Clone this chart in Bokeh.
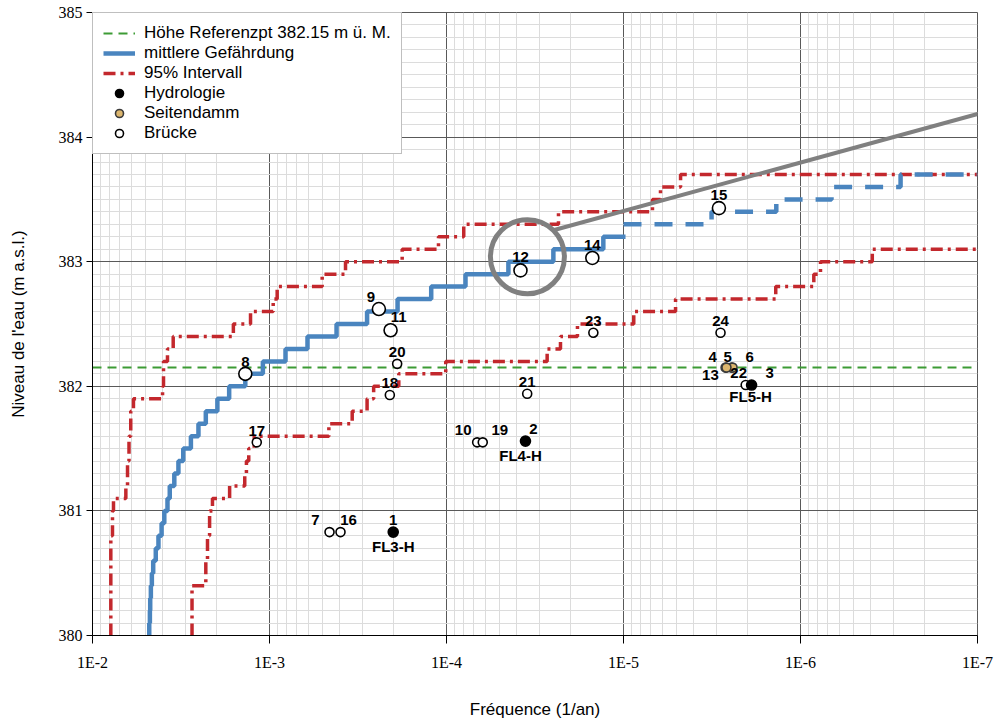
from bokeh.plotting import figure
from bokeh.models import (Range1d, FixedTicker, SingleIntervalTicker, CustomJSTickFormatter,
                          ColumnDataSource, Legend, LegendItem, Arrow, Span)
from bokeh.core.properties import value
from bokeh.embed import file_html
from bokeh.resources import INLINE

# ---------------- data ----------------
ref_level = 382.15

mean_freq = [4.78e-3, 4.78e-3, 4.74e-3, 4.72e-3, 4.68e-3, 4.62e-3, 4.54e-3, 4.39e-3, 4.24e-3,
             4.07e-3, 3.93e-3, 3.77e-3, 3.66e-3, 3.45e-3, 3.27e-3, 3.07e-3, 2.78e-3, 2.52e-3,
             2.29e-3, 1.97e-3, 1.69e-3, 1.37e-3, 1.09e-3, 8.12e-4, 6.10e-4, 4.18e-4, 2.81e-4,
             1.89e-4, 1.22e-4, 7.81e-5, 4.47e-5, 2.49e-5, 1.30e-5, 9.74e-6]
mean_level = [380.0, 380.1, 380.2, 380.3, 380.4, 380.5, 380.6, 380.7, 380.8,
              380.9, 381.0, 381.1, 381.2, 381.3, 381.4, 381.5, 381.6, 381.7,
              381.8, 381.9, 382.0, 382.1, 382.2, 382.3, 382.4, 382.5, 382.6,
              382.7, 382.8, 382.9, 383.0, 383.1, 383.2, 383.2]

mean_ext_freq = [1.0e-5, 3.18e-6, 1.37e-6, 6.68e-7, 2.72e-7, 1.0e-7]
mean_ext_level = [383.3, 383.4, 383.5, 383.6, 383.7, 383.7]

upper_freq = [7.88e-3, 7.88e-3, 7.71e-3, 7.61e-3, 6.48e-3, 6.34e-3, 6.22e-3, 6.08e-3, 5.87e-3,
              4.02e-3, 3.97e-3, 3.77e-3, 3.50e-3, 1.60e-3, 1.28e-3, 9.53e-4, 9.05e-4, 5.04e-4,
              3.72e-4, 1.78e-4, 1.11e-4, 7.99e-5, 2.33e-5, 6.86e-6, 6.18e-6, 4.76e-6, 1.0e-7]
upper_level = [380.0, 380.8, 381.0, 381.1, 381.2, 381.4, 381.6, 381.8, 381.9,
               382.0, 382.2, 382.3, 382.4, 382.5, 382.6, 382.7, 382.8, 382.9,
               383.0, 383.1, 383.2, 383.3, 383.4, 383.5, 383.6, 383.7, 383.7]

lower_freq = [2.74e-3, 2.74e-3, 2.29e-3, 2.24e-3, 2.18e-3, 2.10e-3, 1.68e-3, 1.38e-3, 1.35e-3,
              1.31e-3, 1.22e-3, 4.62e-4, 3.41e-4, 2.81e-4, 2.58e-4, 1.86e-4, 1.01e-4, 2.70e-5,
              2.27e-5, 1.82e-5, 8.75e-6, 5.08e-6, 1.38e-6, 8.41e-7, 7.71e-7, 3.93e-7, 1.0e-7]
lower_level = [380.0, 380.4, 380.6, 380.8, 381.0, 381.1, 381.2, 381.3, 381.4,
               381.5, 381.6, 381.7, 381.8, 381.9, 382.0, 382.1, 382.2, 382.3,
               382.4, 382.5, 382.6, 382.7, 382.8, 382.9, 383.0, 383.1, 383.1]

point_id = ["1", "2", "3", "4", "5", "6", "7", "8", "9", "10", "11", "12",
            "13", "14", "15", "16", "17", "18", "19", "20", "21", "22", "23", "24"]
point_freq = [2.0e-4, 3.58e-5, 1.89e-6, 2.65e-6, 2.45e-6, 2.42e-6, 4.58e-4, 1.37e-3, 2.41e-4,
              6.71e-5, 2.07e-4, 3.82e-5, 2.62e-6, 1.50e-5, 2.89e-6, 3.97e-4, 1.18e-3, 2.09e-4,
              6.24e-5, 1.90e-4, 3.50e-5, 2.04e-6, 1.48e-5, 2.83e-6]
point_level = [380.83, 381.56, 382.01, 382.15, 382.15, 382.15, 380.83, 382.10, 382.62,
               381.55, 382.45, 382.93, 382.15, 383.03, 383.43, 380.83, 381.55, 381.93,
               381.55, 382.18, 381.94, 382.01, 382.43, 382.43]
point_type = ["Hydrologie", "Hydrologie", "Hydrologie", "Seitendamm", "Seitendamm", "Seitendamm",
              "Brücke", "Brücke", "Brücke", "Brücke", "Brücke", "Brücke",
              "Seitendamm", "Brücke", "Brücke", "Brücke", "Brücke", "Brücke",
              "Brücke", "Brücke", "Brücke", "Brücke", "Brücke", "Brücke"]

station_name = ["FL3-H", "FL4-H", "FL5-H"]
station_point = ["1", "2", "3"]

x_tick_values = [1e-2, 1e-3, 1e-4, 1e-5, 1e-6, 1e-7]

# ---------------- styles / layout (not data) ----------------
large_points = {"8", "9", "11", "12", "14", "15"}
label_offset = {  # screen px (dx, dy) of number labels
    "1": (0, -12), "2": (8, -12), "3": (18, -12), "4": (-13, -11), "5": (-4, -11),
    "6": (17, -11), "7": (-14, -12), "8": (0, -12), "9": (-8, -12), "10": (-14, -12),
    "11": (8, -13), "12": (0, -13), "13": (-16, 7), "14": (0, -13), "15": (0, -13),
    "16": (8, -12), "17": (0, -11), "18": (0, -12), "19": (17, -12), "20": (0, -12),
    "21": (0, -12), "22": (-7, -12), "23": (0, -12), "24": (0, -12),
}
station_offset = {"FL3-H": (0, 14), "FL4-H": (-5, 14), "FL5-H": (-1, 11)}

GREEN = "#3d9b35"
BLUE = "#4a85bf"
RED = "#c3282d"
GRAY = "#808080"
TAN = "#dcb66e"
FONT = "Liberation Sans"
TICKFONT = "Liberation Sans Narrow"

p = figure(width=997, height=721, x_axis_type="log",
           x_range=Range1d(1e-2, 1e-7), y_range=Range1d(380, 385),
           output_backend="svg", toolbar_location=None,
           min_border_left=92, min_border_right=20, min_border_top=12, min_border_bottom=85)
p.background_fill_color = "white"
p.border_fill_color = "white"
p.outline_line_color = "#595959"

minor = [k * 10.0 ** e for e in range(-7, -2) for k in range(2, 10)]
p.xaxis.ticker = FixedTicker(ticks=x_tick_values, minor_ticks=minor)
p.xaxis.formatter = CustomJSTickFormatter(code="return '1E' + Math.round(Math.log10(tick));")
p.yaxis.ticker = SingleIntervalTicker(interval=1, num_minor_ticks=10)

for g in (p.xgrid, p.ygrid):
    g.grid_line_color = "#595959"
    g.grid_line_width = 1
    g.minor_grid_line_color = "#dcdcdc"
    g.minor_grid_line_width = 1

for ax in (p.xaxis, p.yaxis):
    ax.axis_line_color = "black"
    ax.major_tick_line_color = "black"
    ax.major_tick_in = 0
    ax.minor_tick_line_color = None
    ax.major_label_text_font = TICKFONT
    ax.major_label_text_font_size = "16px"
    ax.major_label_text_color = "black"
    ax.axis_label_text_font = FONT
    ax.axis_label_text_font_style = "normal"
    ax.axis_label_text_font_size = "17px"
    ax.axis_label_text_color = "black"

p.xaxis.major_tick_out = 8
p.xaxis.major_label_standoff = 10
p.xaxis.axis_label = "Fréquence (1/an)"
p.xaxis.axis_label_standoff = 26
p.yaxis.major_tick_out = 6
p.yaxis.major_label_standoff = 4
p.yaxis.axis_label = "Niveau de l'eau (m a.s.l.)"
p.yaxis.axis_label_standoff = 28

# reference level
r_ref = p.line(x=[1e-2, 1e-7], y=[ref_level, ref_level], line_color=GREEN, line_width=2,
               line_dash="9 6")

# interval curves
r_up = p.step(x=upper_freq, y=upper_level, mode="after", line_color=RED, line_width=3.5,
              line_dash="12 5 3 5")
p.step(x=lower_freq, y=lower_level, mode="after", line_color=RED, line_width=3.5,
       line_dash="12 5 3 5")

# mean curve
r_mean = p.step(x=mean_freq, y=mean_level, mode="after", line_color=BLUE, line_width=4.5)
p.step(x=mean_ext_freq, y=mean_ext_level, mode="after", line_color=BLUE, line_width=4.5,
       line_dash="18 13")

# points
style = {"Hydrologie": ("black", "black"), "Seitendamm": (TAN, "#3a3a3a"), "Brücke": ("white", "black")}
legend_pts = {}
for cat in ["Brücke", "Seitendamm", "Hydrologie"]:
    for big in (False, True):
        idx = [i for i, t in enumerate(point_type) if t == cat and ((point_id[i] in large_points) == big)]
        if not idx:
            continue
        src = ColumnDataSource(dict(x=[point_freq[i] for i in idx], y=[point_level[i] for i in idx]))
        size = 13 if big else (10 if cat == "Hydrologie" else 9)
        fc, lc = style[cat]
        r = p.scatter("x", "y", source=src, size=size, fill_color=fc, line_color=lc,
                      line_width=1.6)
        legend_pts.setdefault(cat, r)

# number labels
lab = ColumnDataSource(dict(
    x=point_freq, y=point_level, text=point_id,
    dx=[label_offset[k][0] for k in point_id], dy=[label_offset[k][1] for k in point_id]))
p.text("x", "y", text="text", source=lab, x_offset="dx", y_offset="dy",
       text_align="center", text_baseline="middle", text_font=value(FONT),
       text_font_style="bold", text_font_size="15px", text_color="black")

st_idx = [point_id.index(k) for k in station_point]
st = ColumnDataSource(dict(
    x=[point_freq[i] for i in st_idx], y=[point_level[i] for i in st_idx], text=station_name,
    dx=[station_offset[k][0] for k in station_name], dy=[station_offset[k][1] for k in station_name]))
p.text("x", "y", text="text", source=st, x_offset="dx", y_offset="dy",
       text_align="center", text_baseline="middle", text_font=value(FONT),
       text_font_style="bold", text_font_size="15px", text_color="black")

# magnifier callout (annotation)
p.scatter(x=[3.49e-5], y=[383.04], size=74, fill_color=None, line_color=GRAY, line_width=5)
p.add_layout(Arrow(end=None, x_start=2.52e-5, y_start=383.25, x_end=7.7e-8, y_end=384.23,
                   line_color=GRAY, line_width=4))

legend = Legend(items=[
    LegendItem(label="Höhe Referenzpt 382.15 m ü. M.", renderers=[r_ref]),
    LegendItem(label="mittlere Gefährdung", renderers=[r_mean]),
    LegendItem(label="95% Intervall", renderers=[r_up]),
    LegendItem(label="Hydrologie", renderers=[legend_pts["Hydrologie"]]),
    LegendItem(label="Seitendamm", renderers=[legend_pts["Seitendamm"]]),
    LegendItem(label="Brücke", renderers=[legend_pts["Brücke"]]),
], location="top_left")
legend.margin = 0
legend.padding = 10
legend.spacing = 0
legend.label_height = 20
legend.glyph_height = 20
legend.glyph_width = 32
legend.label_standoff = 9
legend.label_text_font = FONT
legend.label_text_font_size = "17px"
legend.label_text_color = "black"
legend.border_line_color = "#7f7f7f"
legend.border_line_width = 1
legend.background_fill_color = "white"
legend.background_fill_alpha = 1
p.add_layout(legend)

open("out.html", "w").write(file_html(p, INLINE))
